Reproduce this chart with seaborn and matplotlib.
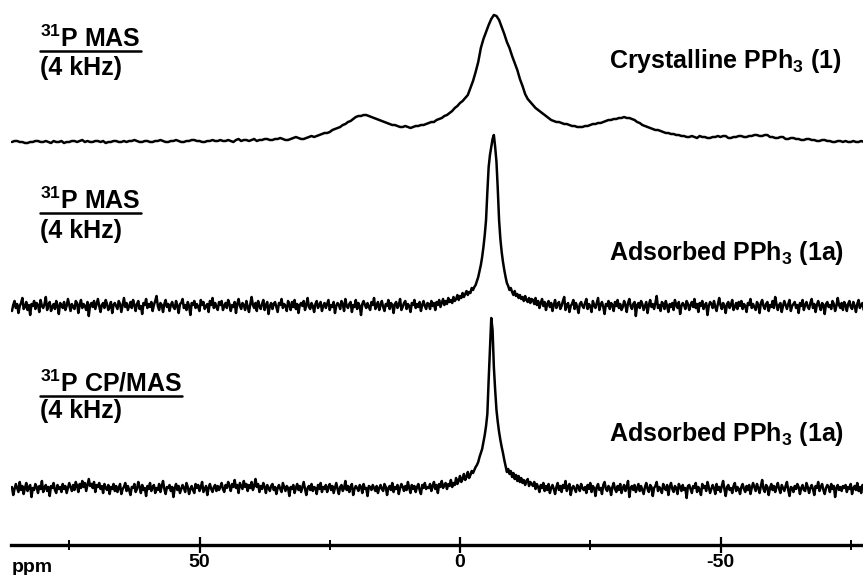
import numpy as np
import pandas as pd
import matplotlib
matplotlib.use("Agg")
import matplotlib.pyplot as plt
import matplotlib.transforms as mtransforms
from matplotlib.lines import Line2D
import seaborn as sns

# ---------------- data ----------------
ppm_half = np.arange(86, -78.5, -0.5)      # 329 points, spectrum (1)
ppm_quarter = np.arange(86, -78.25, -0.25)  # 657 points, spectra (1a)

# Crystalline PPh3 (1), 31P MAS 4 kHz  (intensity, a.u.), 10 ppm per row
crystalline_rows = [
    [0, 1, 1, 0, 0, -1, -1, 0, 0, 1, 1, 0, 0, 1, 0, -1, 1, 0, 0, 1],
    [-1, 0, 0, 1, 1, 0, 1, 2, 0, 1, 0, 0, 1, 1, 0, 1, -1, 0, 0, 1],
    [1, 0, 0, 1, 0, 1, 1, 2, 1, 0, 0, 1, 1, 0, 0, 1, 1, 2, 1, 0],
    [0, 1, 1, 2, 1, 0, 0, 1, 1, 2, 2, 1, 1, 0, 0, 1, 1, 2, 1, 1],
    [2, 1, 1, 2, 1, 0, 2, 3, 1, 2, 2, 1, 2, 3, 1, 2, 2, 3, 3, 2],
    [2, 3, 3, 4, 3, 2, 2, 3, 4, 5, 4, 3, 3, 4, 5, 6, 5, 6, 7, 8],
    [9, 9, 10, 12, 13, 14, 15, 17, 18, 20, 21, 23, 25, 26, 26, 27, 27, 26, 25, 24],
    [23, 22, 21, 20, 19, 18, 17, 17, 16, 15, 15, 16, 15, 14, 15, 16, 16, 17, 17, 18],
    [19, 20, 20, 22, 23, 24, 26, 27, 29, 31, 34, 36, 39, 41, 44, 47, 54, 61, 70, 80],
    [94, 103, 110, 117, 123, 127, 126, 122, 115, 108, 100, 94, 86, 79, 72, 63, 56, 48, 43, 40],
    [37, 34, 32, 30, 28, 26, 24, 22, 21, 20, 20, 19, 18, 18, 17, 16, 16, 15, 15, 15],
    [16, 16, 17, 18, 18, 19, 19, 20, 21, 22, 22, 23, 23, 24, 24, 25, 24, 24, 23, 22],
    [20, 19, 17, 16, 15, 14, 13, 12, 12, 11, 10, 9, 9, 8, 8, 7, 7, 6, 6, 5],
    [5, 6, 5, 4, 6, 5, 5, 4, 4, 5, 5, 6, 5, 6, 6, 4, 4, 5, 5, 6],
    [6, 5, 5, 6, 6, 7, 7, 6, 6, 7, 7, 5, 5, 4, 4, 5, 5, 3, 3, 4],
    [4, 3, 3, 2, 2, 3, 3, 2, 2, 1, 1, 2, 2, 1, 1, 0, 0, 1, 1, 0],
    [1, 0, 0, 1, 0, 0, 1, 0, 0],
]

# Adsorbed PPh3 (1a), 31P MAS 4 kHz, 10 ppm per row
adsorbed_mas_rows = [
    [-4, 2, 6, -1, 3, -6, 1, 4, 9, -2, 0, 5, -3, 2, -8, 3, 1, 6, -2, 4, 2, -5, 7, 1, -1, 3, 10, -3, 2, 5, -4, 0, 3, -2, 6, 1, -7, 4, 2, -1],
    [5, -3, 1, 8, 2, -4, 3, 0, -2, 6, 4, -6, 2, 7, -1, 3, 1, -3, 5, -9, 2, 4, 0, 6, -2, 3, 8, 1, -5, 2, 4, -1, 7, 3, -3, 0, 5, -6, 2, 4],
    [1, -2, 6, 3, -5, 2, 9, 0, 4, -3, 1, 5, -1, 7, 2, -4, 3, 6, -2, 1, -7, 4, 2, 8, -1, 3, 0, 5, -4, 2, 6, 11, 1, -3, 4, 2, -5, 3, 7, 0],
    [3, -4, 2, 5, 0, -2, 6, 1, -6, 3, 4, 8, -1, 2, -3, 5, 1, -8, 4, 2, 6, -1, 3, 0, -4, 7, 2, 5, -2, 1, 3, -5, 6, 2, 9, -1, 4, 0, -3, 5],
    [2, 6, -3, 1, 4, -1, 7, 3, -4, 2, 0, 5, -6, 3, 8, 1, -2, 4, 2, -3, 6, 0, -5, 3, 10, 2, -1, 4, -4, 6, 1, -2, 3, 7, -3, 2, 5, -7, 1, 4],
    [-2, 3, 5, 0, -5, 4, 2, 8, -1, 3, 1, -4, 6, 2, -3, 5, 0, 7, -2, 3, -6, 2, 4, 1, 6, -3, 2, 9, 0, -2, 4, 1, -5, 3, 6, -1, 2, 5, -4, 1],
    [4, -1, 3, 7, -3, 2, 0, 5, -6, 1, 4, 2, -2, 6, 3, -4, 8, 1, -1, 3, 5, -5, 2, 0, 7, -2, 4, 1, -8, 3, 6, 2, -1, 4, 0, -3, 5, 2, 9, -2],
    [1, 5, -3, 2, 6, 0, -4, 3, 1, 7, -2, 4, 2, -6, 3, 5, -1, 2, 8, -3, 0, 4, 6, -2, 3, 1, -5, 4, 2, 7, -1, 3, 0, 5, -4, 2, 6, 1, -2, 4],
    [3, -2, 6, 1, 4, -3, 5, 2, 7, 0, 4, 8, 2, 6, 3, 9, 5, 7, 4, 10, 6, 8, 12, 7, 11, 9, 14, 10, 13, 16, 12, 15, 14, 19, 17, 20, 22, 26, 30, 36],
    [42, 50, 60, 72, 87, 115, 140, 152, 160, 168, 172, 160, 145, 118, 87, 68, 55, 45, 37, 30, 24, 21, 17, 19, 15, 12, 16, 11, 13, 9, 12, 8, 10, 6, 11, 7, 5, 9, 4, 8],
    [7, 3, 9, 2, 6, -1, 4, 8, 1, 5, -3, 3, 6, 0, 4, -4, 2, 7, -1, 3, 5, -2, 1, 6, 10, -3, 2, 4, -5, 1, 3, 7, -2, 4, 0, -6, 3, 5, 1, -1],
    [4, 8, -2, 3, 1, -5, 6, 2, -1, 4, 9, -3, 2, 5, 0, -7, 3, 1, 6, -2, 4, 2, -4, 5, 1, 7, -1, 3, -3, 0, 6, 2, -5, 4, 8, 1, -2, 3, 5, -9],
    [2, 4, -1, 6, 3, -3, 1, 5, -6, 2, 7, 0, 3, -2, 4, 11, -1, 2, -4, 5, 3, -2, 6, 1, -5, 3, 0, 4, -3, 7, 2, -1, 5, -7, 1, 4, 2, -2, 6, 3],
    [-3, 2, 5, 0, 8, -1, 3, -5, 4, 1, 6, -2, 2, 4, -8, 1, 5, 3, -1, 6, 0, -4, 3, 9, 2, -2, 4, 1, -6, 3, 5, -1, 2, 7, -3, 0, 4, -2, 5, 1],
    [6, -2, 3, 1, -5, 4, 2, 8, -1, 3, 0, -3, 5, 2, -6, 4, 7, 1, -2, 3, 5, -4, 2, 0, 6, -1, 10, 3, -3, 2, 4, -5, 1, 6, 2, -2, 3, 7, -4, 1],
    [3, 5, -1, 2, -6, 4, 1, 7, -3, 2, 5, 0, -2, 4, 8, -1, 3, -5, 2, 6, 1, -3, 4, 2, -7, 3, 5, 0, 2, -2, 6, 3, -4, 1, 9, 2, -1, 4, -3, 5],
    [2, -4, 3, 6, 0, -2, 5, 1, -5, 3, 7, -1, 2, 4, -3, 1, 5],
]

# Adsorbed PPh3 (1a), 31P CP/MAS 4 kHz, 10 ppm per row
adsorbed_cp_rows = [
    [3, -5, 1, 6, 2, -2, 8, 0, 4, -4, 2, 7, -1, 3, 5, -7, 2, 0, 6, 3, -3, 4, 1, 9, -2, 2, 5, -1, 3, -6, 4, 2, 7, 0, -3, 5, 1, 3, -2, 6],
    [1, 4, -3, 2, 7, 3, -1, 5, 0, 8, 4, -2, 6, 2, 9, 3, 7, -1, 5, 11, 4, 6, 2, 8, -2, 5, 3, 7, 1, 4, -3, 6, 2, 0, 5, -4, 3, 1, 6, -1],
    [4, -2, 2, 6, -4, 1, 3, 7, -1, 4, 0, -5, 3, 2, 6, -2, 1, 8, 3, -3, 5, 0, 2, -6, 4, 1, 7, -1, 3, 5, -3, 2, 0, 6, -2, 4, 9, 1, -4, 3],
    [2, 5, -1, 3, -7, 2, 6, 0, 4, -3, 1, 5, 2, -2, 7, 3, -4, 1, 4, 0, -3, 6, 2, 5, -1, 3, 8, -2, 1, 4, -5, 2, 6, 1, -2, 3, 5, -1, 4, 0],
    [3, 7, 1, -2, 5, 2, 8, 4, -1, 6, 3, 10, 2, 5, -3, 7, 4, 1, 9, 3, 6, -1, 5, 2, 8, 0, 4, 11, 3, 6, -2, 4, 1, 7, 3, -3, 5, 2, -1, 4],
    [6, 0, 3, -4, 2, 5, 1, -2, 7, 3, -1, 4, 2, -6, 3, 1, 5, -3, 2, 6, 0, 4, -2, 3, 8, 1, -5, 2, 4, 0, 6, -1, 3, 2, -4, 5, 1, 7, -2, 3],
    [1, 5, -2, 3, 6, 0, 4, -3, 2, 7, 1, -4, 3, 5, -1, 2, 9, 0, 4, -2, 3, 6, -5, 1, 4, 2, -1, 5, 3, -3, 6, 1, 2, -6, 4, 3, 0, 5, 2, -1],
    [4, -3, 2, 5, 1, -1, 6, 3, -5, 2, 4, 0, 7, -2, 3, 1, 5, -4, 2, 6, 3, -1, 4, 0, 8, 2, -3, 5, 1, 4, -2, 3, 6, 0, -4, 5, 2, 7, 1, 3],
    [2, 6, -1, 4, 8, 1, 5, -3, 6, 3, 9, 2, 5, 7, 1, 6, 4, 10, 3, 7, 5, 12, 6, 9, 14, 8, 11, 16, 10, 13, 18, 12, 15, 19, 17, 20, 23, 25, 28, 33],
    [37, 41, 48, 55, 64, 76, 110, 140, 172, 160, 123, 100, 80, 68, 58, 50, 43, 37, 30, 24, 18, 21, 16, 19, 13, 17, 11, 15, 9, 14, 8, 12, 7, 10, 5, 9, 11, 4, 8, 6],
    [4, 8, 1, 6, 3, -2, 5, 2, 7, -1, 4, 0, 6, -3, 2, 5, 1, -4, 3, 7, 0, 4, -2, 5, 2, 9, -1, 3, 6, -5, 2, 4, 1, -2, 5, 3, -1, 6, 2, 0],
    [3, -3, 5, 1, 7, -2, 4, 2, -6, 3, 6, 0, 2, -4, 5, 8, 1, -1, 4, 2, -5, 3, 7, 1, -2, 4, 0, 6, -3, 2, 5, -1, 3, 9, -7, 2, 4, 0, 5, -2],
    [2, 6, -1, 4, 0, -4, 3, 7, 1, -2, 5, 3, -6, 2, 4, 8, -1, 3, 1, -3, 6, 2, 0, 5, -5, 3, 7, 1, -2, 4, 2, -4, 6, 3, -1, 5, 0, 2, -8, 4],
    [5, 1, -3, 4, 2, 7, -2, 3, 0, -5, 6, 2, 4, -1, 8, 3, -3, 1, 5, 2, -4, 6, 0, 3, -2, 4, 9, 1, -6, 3, 5, 0, 2, -3, 4, 7, -1, 3, 1, -4],
    [3, 6, 1, -2, 4, 0, 5, -4, 2, 7, 3, -1, 6, 2, -3, 4, 10, 1, -2, 5, 3, -5, 2, 6, 0, 4, -2, 3, 7, 1, -3, 5, 2, -1, 4, 8, 0, -6, 3, 2],
    [-2, 4, 1, 6, 3, -4, 2, 5, 0, -1, 7, 3, -3, 2, 5, 1, -5, 4, 2, 8, -1, 3, 6, 0, -4, 2, 5, 3, -2, 6, 1, 4, -7, 2, 5, 0, 3, -1, 4, 2],
    [5, -2, 3, 1, 6, -4, 2, 4, 0, 7, -1, 3, -3, 5, 2, 0, 4],
]

major_ticks = [50, 0, -50]
major_labels = ["50", "0", "-50"]
minor_ticks = [75, 25, -25, -75]

method_labels = [r"$^{31}$P MAS", r"$^{31}$P MAS", r"$^{31}$P CP/MAS"]
rate_labels = ["(4 kHz)", "(4 kHz)", "(4 kHz)"]
sample_labels = [r"Crystalline PPh$_3$ (1)", r"Adsorbed PPh$_3$ (1a)",
                 r"Adsorbed PPh$_3$ (1a)"]


def flatten(rows):
    return [v for r in rows for v in r]


crystalline = flatten(crystalline_rows)
adsorbed_mas = flatten(adsorbed_mas_rows)
adsorbed_cp = flatten(adsorbed_cp_rows)
assert len(crystalline) == len(ppm_half)
assert len(adsorbed_mas) == len(ppm_quarter)
assert len(adsorbed_cp) == len(ppm_quarter)

# ---------------- style / layout ----------------
sns.set_theme(style="white")
plt.rcParams['font.family'] = ['Liberation Sans', 'DejaVu Sans']
plt.rcParams['font.weight'] = 'bold'
plt.rcParams['text.color'] = 'black'
plt.rcParams['xtick.color'] = 'black'
plt.rcParams['xtick.labelcolor'] = 'black'
plt.rcParams['mathtext.fontset'] = 'custom'
plt.rcParams['mathtext.rm'] = 'Liberation Sans:bold'
plt.rcParams['mathtext.bf'] = 'Liberation Sans:bold'
plt.rcParams['mathtext.it'] = 'Liberation Sans:bold'
plt.rcParams['mathtext.sf'] = 'Liberation Sans:bold'
plt.rcParams['mathtext.default'] = 'rm'

W, H = 863, 575
PX_PER_PPM = 5.21
ZERO_PX = 460
AXIS_PX = 545


def px2x(px):
    return (ZERO_PX - px) / PX_PER_PPM


def py2y(py):
    return AXIS_PX - py


fig = plt.figure(figsize=(W / 100, H / 100), dpi=100)
ax = fig.add_axes([11 / W, (H - AXIS_PX) / H, (W - 11) / W, AXIS_PX / H])
ax.set_xlim(px2x(11), px2x(W))
ax.set_ylim(0, AXIS_PX)

baselines_px = [142, 307, 490]
widths = [1.8, 1.8, 1.8]
series = [(ppm_half, crystalline), (ppm_quarter, adsorbed_mas), (ppm_quarter, adsorbed_cp)]
for (xs, vals), bpx, lw in zip(series, baselines_px, widths):
    df = pd.DataFrame({"ppm": xs, "intensity": np.asarray(vals, float) + py2y(bpx)})
    sns.lineplot(data=df, x="ppm", y="intensity", ax=ax, color="black",
                 linewidth=lw, estimator=None, sort=False)

for side in ["top", "left", "right"]:
    ax.spines[side].set_visible(False)
ax.spines["bottom"].set_linewidth(2.4)
ax.spines["bottom"].set_color("black")
ax.set_yticks([])
ax.set_xticks(major_ticks)
ax.set_xticklabels(major_labels, fontsize=14, fontweight="bold")
ax.set_xticks(minor_ticks, minor=True)
ax.tick_params(axis="x", which="major", direction="inout", length=11, width=1.6,
               pad=1, color="black", bottom=True)
ax.tick_params(axis="x", which="minor", direction="inout", length=7, width=1.4,
               color="black", bottom=True)
ax.set_xlabel("")
ax.set_ylabel("")

fig.text(12 / W, 1 - 567 / H, "ppm", fontsize=14, fontweight="bold",
         ha="left", va="center")

# text blocks (pixel positions of baselines)
method_pos = [(40, 47), (40, 209), (40, 392)]
underline_py = [51, 213, 396]
rate_pos = [(40, 75), (40, 238), (40, 418)]
sample_pos = [(609, 68), (609, 260), (609, 441)]

FS = 18
method_texts = []
for lab, (px, py) in zip(method_labels, method_pos):
    t = ax.text(px2x(px), py2y(py), lab, fontsize=FS, fontweight="bold",
                ha="left", va="baseline")
    method_texts.append(t)
for lab, (px, py) in zip(rate_labels, rate_pos):
    ax.text(px2x(px), py2y(py), lab, fontsize=FS, fontweight="bold",
            ha="left", va="baseline")
for lab, (px, py) in zip(sample_labels, sample_pos):
    ax.text(px2x(px), py2y(py), lab, fontsize=FS, fontweight="bold",
            ha="left", va="baseline")

fig.canvas.draw()
renderer = fig.canvas.get_renderer()
for t, upy in zip(method_texts, underline_py):
    bb = t.get_window_extent(renderer)
    yd = H - upy
    fig.add_artist(Line2D([bb.x0, bb.x1], [yd, yd], color="black", linewidth=1.8,
                          transform=mtransforms.IdentityTransform()))

fig.savefig("out.png", dpi=100, facecolor="white")
